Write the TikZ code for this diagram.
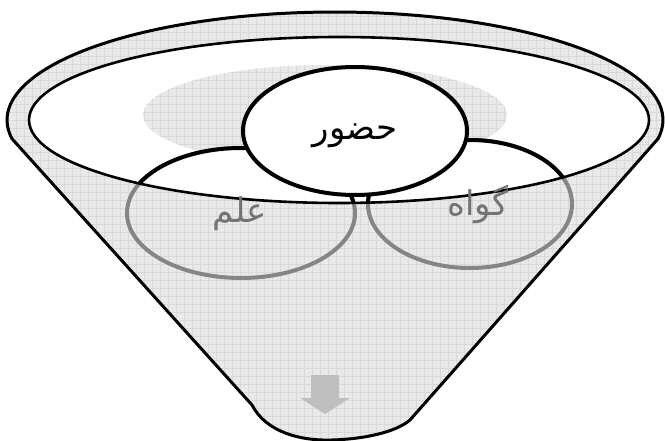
\documentclass[tikz,border=0pt]{standalone}
\usepackage{fontspec}
\newfontfamily\arabicfont[Script=Arabic]{DejaVu Sans}
\TeXXeTstate=1

% outline of the funnel, in pixel coordinates
\newcommand{\funnelshape}{plot[domain=-10:190, samples=90] ({335+328*cos(\x)},{120-108*sin(\x)})
  -- (252,405) .. controls (266,432) and (300,441) .. (332,440)
  .. controls (365,439) and (396,432) .. (410,420) -- cycle}
\newcommand{\innerrim}{(339,120) ellipse [x radius=310, y radius=83]}

\begin{document}
\begin{tikzpicture}[
  x=1pt, y=-1pt,
  meshfill/.style={fill=gray!17},
  meshlines/.style={draw=gray!30, line width=0.5pt},
  rimline/.style={line width=2.6pt, line join=round},
  bubble/.style={line width=4pt},
  fadedbubble/.style={line width=4pt, draw=black!48},
  wordtext/.style={font=\arabicfont\fontsize{34}{40}\selectfont, inner sep=0pt}
]
\useasboundingbox (0,0) rectangle (665,441);

% funnel body with its mesh
\begin{scope}
  \clip \funnelshape;
  \path[meshfill] (0,0) rectangle (665,441);
  \draw[meshlines, step=8pt] (0,0) grid (665,441);
\end{scope}

% open top of the funnel
\fill[white] \innerrim;

% shadow behind the bubbles
\begin{scope}
  \clip (325,115) ellipse [x radius=182, y radius=50];
  \path[meshfill] (0,0) rectangle (665,441);
  \draw[meshlines, step=8pt] (0,0) grid (665,441);
\end{scope}

% lower bubbles, faded where they sink into the funnel
\draw[fadedbubble] (241,213) ellipse [x radius=114, y radius=65];
\draw[fadedbubble] (470,204) ellipse [x radius=102, y radius=64];
\begin{scope}
  \clip \innerrim;
  \filldraw[bubble, fill=white] (241,213) ellipse [x radius=114, y radius=65];
  \filldraw[bubble, fill=white] (470,204) ellipse [x radius=102, y radius=64];
\end{scope}

% rims
\draw[rimline] \innerrim;
\draw[rimline, line width=3pt] \funnelshape;

% top bubble
\filldraw[bubble, fill=white] (355,131) ellipse [x radius=112, y radius=64];

\node[wordtext] (hozur) at (355,136) {\beginR حضور\endR};
\node[wordtext, text=black!55] (elm) at (240,214) {\beginR علم\endR};
\node[wordtext, text=black!55] (govah) at (478,204) {\beginR گواه\endR};

% outlet arrow
\fill[gray!50] (311,375) -- (339,375) -- (339,398) -- (350,398) -- (325,414)
  -- (300,398) -- (311,398) -- cycle;

\end{tikzpicture}
\end{document}
